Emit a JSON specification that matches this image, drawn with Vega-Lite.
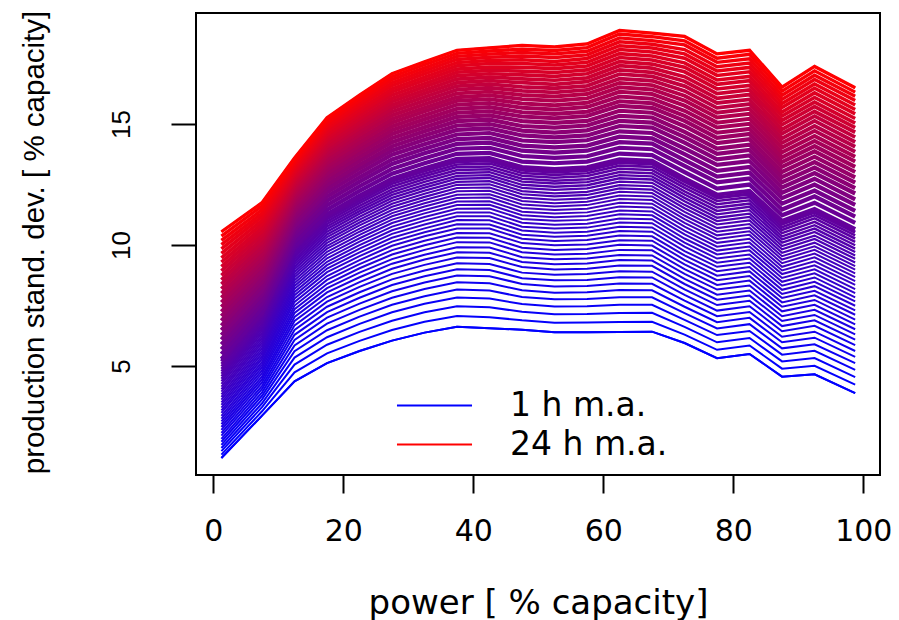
{
"$schema":"https://vega.github.io/schema/vega-lite/v6.json",
"width":684,"height":462,
"autosize":{"type":"none"},
"padding":{"left":196,"top":13,"right":19,"bottom":145},
"background":"white",
"config":{"view":{"stroke":"black","strokeWidth":2},"axis":{"grid":false}},
"data":{"values":[
{"w":1,"x":1.25,"y":1.2},{"w":1.25,"x":1.25,"y":1.34},{"w":1.5,"x":1.25,"y":1.48},{"w":1.75,"x":1.25,"y":1.61},{"w":2,"x":1.25,"y":1.74},{"w":2.25,"x":1.25,"y":1.87},{"w":2.5,"x":1.25,"y":1.99},{"w":2.75,"x":1.25,"y":2.12},{"w":3,"x":1.25,"y":2.24},{"w":3.25,"x":1.25,"y":2.36},{"w":3.5,"x":1.25,"y":2.48},{"w":3.75,"x":1.25,"y":2.6},{"w":4,"x":1.25,"y":2.71},{"w":4.25,"x":1.25,"y":2.83},{"w":4.5,"x":1.25,"y":2.94},{"w":4.75,"x":1.25,"y":3.06},{"w":5,"x":1.25,"y":3.17},{"w":5.25,"x":1.25,"y":3.28},{"w":5.5,"x":1.25,"y":3.39},{"w":5.75,"x":1.25,"y":3.5},{"w":6,"x":1.25,"y":3.61},{"w":6.25,"x":1.25,"y":3.72},{"w":6.5,"x":1.25,"y":3.83},{"w":6.75,"x":1.25,"y":3.94},{"w":7,"x":1.25,"y":4.04},{"w":7.25,"x":1.25,"y":4.15},{"w":7.5,"x":1.25,"y":4.26},{"w":7.75,"x":1.25,"y":4.37},{"w":8,"x":1.25,"y":4.47},{"w":8.25,"x":1.25,"y":4.58},{"w":8.5,"x":1.25,"y":4.68},{"w":8.75,"x":1.25,"y":4.78},{"w":9,"x":1.25,"y":4.88},{"w":9.25,"x":1.25,"y":4.99},{"w":9.5,"x":1.25,"y":5.09},{"w":9.75,"x":1.25,"y":5.19},{"w":10,"x":1.25,"y":5.29},{"w":10.5,"x":1.25,"y":5.49},{"w":11,"x":1.25,"y":5.69},{"w":11.5,"x":1.25,"y":5.89},{"w":12,"x":1.25,"y":6.09},{"w":12.5,"x":1.25,"y":6.28},{"w":13,"x":1.25,"y":6.48},{"w":13.5,"x":1.25,"y":6.67},{"w":14,"x":1.25,"y":6.87},{"w":14.5,"x":1.25,"y":7.06},{"w":15,"x":1.25,"y":7.25},{"w":15.5,"x":1.25,"y":7.44},{"w":16,"x":1.25,"y":7.63},{"w":16.5,"x":1.25,"y":7.82},{"w":17,"x":1.25,"y":8.0},{"w":17.5,"x":1.25,"y":8.19},{"w":18,"x":1.25,"y":8.38},{"w":18.5,"x":1.25,"y":8.56},{"w":19,"x":1.25,"y":8.75},{"w":19.5,"x":1.25,"y":8.93},{"w":20,"x":1.25,"y":9.11},{"w":20.5,"x":1.25,"y":9.29},{"w":21,"x":1.25,"y":9.47},{"w":21.5,"x":1.25,"y":9.66},{"w":22,"x":1.25,"y":9.84},{"w":22.5,"x":1.25,"y":10.02},{"w":23,"x":1.25,"y":10.19},{"w":23.5,"x":1.25,"y":10.37},{"w":24,"x":1.25,"y":10.55},
{"w":1,"x":7.5,"y":2.95},{"w":1.25,"x":7.5,"y":3.13},{"w":1.5,"x":7.5,"y":3.3},{"w":1.75,"x":7.5,"y":3.46},{"w":2,"x":7.5,"y":3.62},{"w":2.25,"x":7.5,"y":3.77},{"w":2.5,"x":7.5,"y":3.91},{"w":2.75,"x":7.5,"y":4.05},{"w":3,"x":7.5,"y":4.18},{"w":3.25,"x":7.5,"y":4.32},{"w":3.5,"x":7.5,"y":4.45},{"w":3.75,"x":7.5,"y":4.57},{"w":4,"x":7.5,"y":4.7},{"w":4.25,"x":7.5,"y":4.82},{"w":4.5,"x":7.5,"y":4.94},{"w":4.75,"x":7.5,"y":5.06},{"w":5,"x":7.5,"y":5.17},{"w":5.25,"x":7.5,"y":5.29},{"w":5.5,"x":7.5,"y":5.4},{"w":5.75,"x":7.5,"y":5.51},{"w":6,"x":7.5,"y":5.62},{"w":6.25,"x":7.5,"y":5.73},{"w":6.5,"x":7.5,"y":5.84},{"w":6.75,"x":7.5,"y":5.95},{"w":7,"x":7.5,"y":6.05},{"w":7.25,"x":7.5,"y":6.15},{"w":7.5,"x":7.5,"y":6.25},{"w":7.75,"x":7.5,"y":6.36},{"w":8,"x":7.5,"y":6.46},{"w":8.25,"x":7.5,"y":6.56},{"w":8.5,"x":7.5,"y":6.65},{"w":8.75,"x":7.5,"y":6.75},{"w":9,"x":7.5,"y":6.85},{"w":9.25,"x":7.5,"y":6.95},{"w":9.5,"x":7.5,"y":7.04},{"w":9.75,"x":7.5,"y":7.14},{"w":10,"x":7.5,"y":7.23},{"w":10.5,"x":7.5,"y":7.42},{"w":11,"x":7.5,"y":7.6},{"w":11.5,"x":7.5,"y":7.78},{"w":12,"x":7.5,"y":7.96},{"w":12.5,"x":7.5,"y":8.13},{"w":13,"x":7.5,"y":8.31},{"w":13.5,"x":7.5,"y":8.48},{"w":14,"x":7.5,"y":8.65},{"w":14.5,"x":7.5,"y":8.82},{"w":15,"x":7.5,"y":8.98},{"w":15.5,"x":7.5,"y":9.15},{"w":16,"x":7.5,"y":9.31},{"w":16.5,"x":7.5,"y":9.47},{"w":17,"x":7.5,"y":9.63},{"w":17.5,"x":7.5,"y":9.79},{"w":18,"x":7.5,"y":9.95},{"w":18.5,"x":7.5,"y":10.11},{"w":19,"x":7.5,"y":10.26},{"w":19.5,"x":7.5,"y":10.42},{"w":20,"x":7.5,"y":10.57},{"w":20.5,"x":7.5,"y":10.72},{"w":21,"x":7.5,"y":10.87},{"w":21.5,"x":7.5,"y":11.02},{"w":22,"x":7.5,"y":11.17},{"w":22.5,"x":7.5,"y":11.31},{"w":23,"x":7.5,"y":11.46},{"w":23.5,"x":7.5,"y":11.61},{"w":24,"x":7.5,"y":11.75},
{"w":1,"x":12.5,"y":4.37},{"w":1.25,"x":12.5,"y":4.74},{"w":1.5,"x":12.5,"y":5.06},{"w":1.75,"x":12.5,"y":5.35},{"w":2,"x":12.5,"y":5.61},{"w":2.25,"x":12.5,"y":5.85},{"w":2.5,"x":12.5,"y":6.08},{"w":2.75,"x":12.5,"y":6.29},{"w":3,"x":12.5,"y":6.49},{"w":3.25,"x":12.5,"y":6.68},{"w":3.5,"x":12.5,"y":6.86},{"w":3.75,"x":12.5,"y":7.03},{"w":4,"x":12.5,"y":7.19},{"w":4.25,"x":12.5,"y":7.35},{"w":4.5,"x":12.5,"y":7.5},{"w":4.75,"x":12.5,"y":7.65},{"w":5,"x":12.5,"y":7.79},{"w":5.25,"x":12.5,"y":7.93},{"w":5.5,"x":12.5,"y":8.06},{"w":5.75,"x":12.5,"y":8.19},{"w":6,"x":12.5,"y":8.31},{"w":6.25,"x":12.5,"y":8.43},{"w":6.5,"x":12.5,"y":8.55},{"w":6.75,"x":12.5,"y":8.67},{"w":7,"x":12.5,"y":8.78},{"w":7.25,"x":12.5,"y":8.89},{"w":7.5,"x":12.5,"y":9.0},{"w":7.75,"x":12.5,"y":9.11},{"w":8,"x":12.5,"y":9.21},{"w":8.25,"x":12.5,"y":9.31},{"w":8.5,"x":12.5,"y":9.41},{"w":8.75,"x":12.5,"y":9.51},{"w":9,"x":12.5,"y":9.6},{"w":9.25,"x":12.5,"y":9.7},{"w":9.5,"x":12.5,"y":9.79},{"w":9.75,"x":12.5,"y":9.88},{"w":10,"x":12.5,"y":9.97},{"w":10.5,"x":12.5,"y":10.14},{"w":11,"x":12.5,"y":10.31},{"w":11.5,"x":12.5,"y":10.48},{"w":12,"x":12.5,"y":10.64},{"w":12.5,"x":12.5,"y":10.79},{"w":13,"x":12.5,"y":10.94},{"w":13.5,"x":12.5,"y":11.09},{"w":14,"x":12.5,"y":11.24},{"w":14.5,"x":12.5,"y":11.38},{"w":15,"x":12.5,"y":11.51},{"w":15.5,"x":12.5,"y":11.65},{"w":16,"x":12.5,"y":11.78},{"w":16.5,"x":12.5,"y":11.91},{"w":17,"x":12.5,"y":12.04},{"w":17.5,"x":12.5,"y":12.16},{"w":18,"x":12.5,"y":12.28},{"w":18.5,"x":12.5,"y":12.4},{"w":19,"x":12.5,"y":12.52},{"w":19.5,"x":12.5,"y":12.64},{"w":20,"x":12.5,"y":12.75},{"w":20.5,"x":12.5,"y":12.86},{"w":21,"x":12.5,"y":12.97},{"w":21.5,"x":12.5,"y":13.08},{"w":22,"x":12.5,"y":13.19},{"w":22.5,"x":12.5,"y":13.29},{"w":23,"x":12.5,"y":13.4},{"w":23.5,"x":12.5,"y":13.5},{"w":24,"x":12.5,"y":13.6},
{"w":1,"x":17.5,"y":5.12},{"w":1.25,"x":17.5,"y":5.52},{"w":1.5,"x":17.5,"y":5.88},{"w":1.75,"x":17.5,"y":6.19},{"w":2,"x":17.5,"y":6.48},{"w":2.25,"x":17.5,"y":6.75},{"w":2.5,"x":17.5,"y":7.0},{"w":2.75,"x":17.5,"y":7.23},{"w":3,"x":17.5,"y":7.45},{"w":3.25,"x":17.5,"y":7.66},{"w":3.5,"x":17.5,"y":7.85},{"w":3.75,"x":17.5,"y":8.04},{"w":4,"x":17.5,"y":8.22},{"w":4.25,"x":17.5,"y":8.39},{"w":4.5,"x":17.5,"y":8.56},{"w":4.75,"x":17.5,"y":8.72},{"w":5,"x":17.5,"y":8.88},{"w":5.25,"x":17.5,"y":9.03},{"w":5.5,"x":17.5,"y":9.17},{"w":5.75,"x":17.5,"y":9.31},{"w":6,"x":17.5,"y":9.45},{"w":6.25,"x":17.5,"y":9.59},{"w":6.5,"x":17.5,"y":9.72},{"w":6.75,"x":17.5,"y":9.85},{"w":7,"x":17.5,"y":9.97},{"w":7.25,"x":17.5,"y":10.09},{"w":7.5,"x":17.5,"y":10.21},{"w":7.75,"x":17.5,"y":10.33},{"w":8,"x":17.5,"y":10.44},{"w":8.25,"x":17.5,"y":10.55},{"w":8.5,"x":17.5,"y":10.66},{"w":8.75,"x":17.5,"y":10.77},{"w":9,"x":17.5,"y":10.87},{"w":9.25,"x":17.5,"y":10.97},{"w":9.5,"x":17.5,"y":11.07},{"w":9.75,"x":17.5,"y":11.17},{"w":10,"x":17.5,"y":11.27},{"w":10.5,"x":17.5,"y":11.46},{"w":11,"x":17.5,"y":11.65},{"w":11.5,"x":17.5,"y":11.83},{"w":12,"x":17.5,"y":12.01},{"w":12.5,"x":17.5,"y":12.18},{"w":13,"x":17.5,"y":12.34},{"w":13.5,"x":17.5,"y":12.5},{"w":14,"x":17.5,"y":12.66},{"w":14.5,"x":17.5,"y":12.82},{"w":15,"x":17.5,"y":12.97},{"w":15.5,"x":17.5,"y":13.12},{"w":16,"x":17.5,"y":13.26},{"w":16.5,"x":17.5,"y":13.4},{"w":17,"x":17.5,"y":13.54},{"w":17.5,"x":17.5,"y":13.68},{"w":18,"x":17.5,"y":13.81},{"w":18.5,"x":17.5,"y":13.94},{"w":19,"x":17.5,"y":14.07},{"w":19.5,"x":17.5,"y":14.2},{"w":20,"x":17.5,"y":14.33},{"w":20.5,"x":17.5,"y":14.45},{"w":21,"x":17.5,"y":14.57},{"w":21.5,"x":17.5,"y":14.69},{"w":22,"x":17.5,"y":14.81},{"w":22.5,"x":17.5,"y":14.92},{"w":23,"x":17.5,"y":15.04},{"w":23.5,"x":17.5,"y":15.15},{"w":24,"x":17.5,"y":15.26},
{"w":1,"x":22.5,"y":5.62},{"w":1.25,"x":22.5,"y":6.04},{"w":1.5,"x":22.5,"y":6.41},{"w":1.75,"x":22.5,"y":6.74},{"w":2,"x":22.5,"y":7.04},{"w":2.25,"x":22.5,"y":7.32},{"w":2.5,"x":22.5,"y":7.58},{"w":2.75,"x":22.5,"y":7.82},{"w":3,"x":22.5,"y":8.05},{"w":3.25,"x":22.5,"y":8.27},{"w":3.5,"x":22.5,"y":8.47},{"w":3.75,"x":22.5,"y":8.67},{"w":4,"x":22.5,"y":8.86},{"w":4.25,"x":22.5,"y":9.04},{"w":4.5,"x":22.5,"y":9.21},{"w":4.75,"x":22.5,"y":9.38},{"w":5,"x":22.5,"y":9.54},{"w":5.25,"x":22.5,"y":9.7},{"w":5.5,"x":22.5,"y":9.85},{"w":5.75,"x":22.5,"y":10.0},{"w":6,"x":22.5,"y":10.14},{"w":6.25,"x":22.5,"y":10.28},{"w":6.5,"x":22.5,"y":10.42},{"w":6.75,"x":22.5,"y":10.55},{"w":7,"x":22.5,"y":10.68},{"w":7.25,"x":22.5,"y":10.81},{"w":7.5,"x":22.5,"y":10.93},{"w":7.75,"x":22.5,"y":11.05},{"w":8,"x":22.5,"y":11.17},{"w":8.25,"x":22.5,"y":11.29},{"w":8.5,"x":22.5,"y":11.4},{"w":8.75,"x":22.5,"y":11.51},{"w":9,"x":22.5,"y":11.62},{"w":9.25,"x":22.5,"y":11.73},{"w":9.5,"x":22.5,"y":11.83},{"w":9.75,"x":22.5,"y":11.94},{"w":10,"x":22.5,"y":12.04},{"w":10.5,"x":22.5,"y":12.24},{"w":11,"x":22.5,"y":12.43},{"w":11.5,"x":22.5,"y":12.62},{"w":12,"x":22.5,"y":12.8},{"w":12.5,"x":22.5,"y":12.98},{"w":13,"x":22.5,"y":13.16},{"w":13.5,"x":22.5,"y":13.32},{"w":14,"x":22.5,"y":13.49},{"w":14.5,"x":22.5,"y":13.65},{"w":15,"x":22.5,"y":13.81},{"w":15.5,"x":22.5,"y":13.96},{"w":16,"x":22.5,"y":14.11},{"w":16.5,"x":22.5,"y":14.26},{"w":17,"x":22.5,"y":14.41},{"w":17.5,"x":22.5,"y":14.55},{"w":18,"x":22.5,"y":14.69},{"w":18.5,"x":22.5,"y":14.83},{"w":19,"x":22.5,"y":14.96},{"w":19.5,"x":22.5,"y":15.09},{"w":20,"x":22.5,"y":15.22},{"w":20.5,"x":22.5,"y":15.35},{"w":21,"x":22.5,"y":15.48},{"w":21.5,"x":22.5,"y":15.6},{"w":22,"x":22.5,"y":15.73},{"w":22.5,"x":22.5,"y":15.85},{"w":23,"x":22.5,"y":15.97},{"w":23.5,"x":22.5,"y":16.08},{"w":24,"x":22.5,"y":16.2},
{"w":1,"x":27.5,"y":6.05},{"w":1.25,"x":27.5,"y":6.49},{"w":1.5,"x":27.5,"y":6.87},{"w":1.75,"x":27.5,"y":7.22},{"w":2,"x":27.5,"y":7.53},{"w":2.25,"x":27.5,"y":7.82},{"w":2.5,"x":27.5,"y":8.09},{"w":2.75,"x":27.5,"y":8.35},{"w":3,"x":27.5,"y":8.58},{"w":3.25,"x":27.5,"y":8.81},{"w":3.5,"x":27.5,"y":9.02},{"w":3.75,"x":27.5,"y":9.23},{"w":4,"x":27.5,"y":9.42},{"w":4.25,"x":27.5,"y":9.61},{"w":4.5,"x":27.5,"y":9.79},{"w":4.75,"x":27.5,"y":9.97},{"w":5,"x":27.5,"y":10.14},{"w":5.25,"x":27.5,"y":10.3},{"w":5.5,"x":27.5,"y":10.46},{"w":5.75,"x":27.5,"y":10.61},{"w":6,"x":27.5,"y":10.76},{"w":6.25,"x":27.5,"y":10.91},{"w":6.5,"x":27.5,"y":11.05},{"w":6.75,"x":27.5,"y":11.19},{"w":7,"x":27.5,"y":11.32},{"w":7.25,"x":27.5,"y":11.45},{"w":7.5,"x":27.5,"y":11.58},{"w":7.75,"x":27.5,"y":11.71},{"w":8,"x":27.5,"y":11.83},{"w":8.25,"x":27.5,"y":11.95},{"w":8.5,"x":27.5,"y":12.07},{"w":8.75,"x":27.5,"y":12.19},{"w":9,"x":27.5,"y":12.3},{"w":9.25,"x":27.5,"y":12.42},{"w":9.5,"x":27.5,"y":12.53},{"w":9.75,"x":27.5,"y":12.64},{"w":10,"x":27.5,"y":12.74},{"w":10.5,"x":27.5,"y":12.95},{"w":11,"x":27.5,"y":13.15},{"w":11.5,"x":27.5,"y":13.35},{"w":12,"x":27.5,"y":13.54},{"w":12.5,"x":27.5,"y":13.73},{"w":13,"x":27.5,"y":13.91},{"w":13.5,"x":27.5,"y":14.08},{"w":14,"x":27.5,"y":14.25},{"w":14.5,"x":27.5,"y":14.42},{"w":15,"x":27.5,"y":14.59},{"w":15.5,"x":27.5,"y":14.75},{"w":16,"x":27.5,"y":14.91},{"w":16.5,"x":27.5,"y":15.06},{"w":17,"x":27.5,"y":15.21},{"w":17.5,"x":27.5,"y":15.36},{"w":18,"x":27.5,"y":15.51},{"w":18.5,"x":27.5,"y":15.65},{"w":19,"x":27.5,"y":15.79},{"w":19.5,"x":27.5,"y":15.93},{"w":20,"x":27.5,"y":16.06},{"w":20.5,"x":27.5,"y":16.2},{"w":21,"x":27.5,"y":16.33},{"w":21.5,"x":27.5,"y":16.46},{"w":22,"x":27.5,"y":16.59},{"w":22.5,"x":27.5,"y":16.71},{"w":23,"x":27.5,"y":16.84},{"w":23.5,"x":27.5,"y":16.96},{"w":24,"x":27.5,"y":17.08},
{"w":1,"x":32.5,"y":6.38},{"w":1.25,"x":32.5,"y":6.83},{"w":1.5,"x":32.5,"y":7.22},{"w":1.75,"x":32.5,"y":7.57},{"w":2,"x":32.5,"y":7.88},{"w":2.25,"x":32.5,"y":8.18},{"w":2.5,"x":32.5,"y":8.45},{"w":2.75,"x":32.5,"y":8.71},{"w":3,"x":32.5,"y":8.95},{"w":3.25,"x":32.5,"y":9.18},{"w":3.5,"x":32.5,"y":9.4},{"w":3.75,"x":32.5,"y":9.6},{"w":4,"x":32.5,"y":9.8},{"w":4.25,"x":32.5,"y":9.99},{"w":4.5,"x":32.5,"y":10.18},{"w":4.75,"x":32.5,"y":10.36},{"w":5,"x":32.5,"y":10.53},{"w":5.25,"x":32.5,"y":10.69},{"w":5.5,"x":32.5,"y":10.85},{"w":5.75,"x":32.5,"y":11.01},{"w":6,"x":32.5,"y":11.16},{"w":6.25,"x":32.5,"y":11.31},{"w":6.5,"x":32.5,"y":11.45},{"w":6.75,"x":32.5,"y":11.59},{"w":7,"x":32.5,"y":11.73},{"w":7.25,"x":32.5,"y":11.86},{"w":7.5,"x":32.5,"y":11.99},{"w":7.75,"x":32.5,"y":12.12},{"w":8,"x":32.5,"y":12.25},{"w":8.25,"x":32.5,"y":12.37},{"w":8.5,"x":32.5,"y":12.49},{"w":8.75,"x":32.5,"y":12.61},{"w":9,"x":32.5,"y":12.73},{"w":9.25,"x":32.5,"y":12.84},{"w":9.5,"x":32.5,"y":12.95},{"w":9.75,"x":32.5,"y":13.06},{"w":10,"x":32.5,"y":13.17},{"w":10.5,"x":32.5,"y":13.38},{"w":11,"x":32.5,"y":13.59},{"w":11.5,"x":32.5,"y":13.79},{"w":12,"x":32.5,"y":13.98},{"w":12.5,"x":32.5,"y":14.17},{"w":13,"x":32.5,"y":14.35},{"w":13.5,"x":32.5,"y":14.53},{"w":14,"x":32.5,"y":14.7},{"w":14.5,"x":32.5,"y":14.87},{"w":15,"x":32.5,"y":15.04},{"w":15.5,"x":32.5,"y":15.2},{"w":16,"x":32.5,"y":15.36},{"w":16.5,"x":32.5,"y":15.52},{"w":17,"x":32.5,"y":15.67},{"w":17.5,"x":32.5,"y":15.82},{"w":18,"x":32.5,"y":15.97},{"w":18.5,"x":32.5,"y":16.12},{"w":19,"x":32.5,"y":16.26},{"w":19.5,"x":32.5,"y":16.4},{"w":20,"x":32.5,"y":16.54},{"w":20.5,"x":32.5,"y":16.67},{"w":21,"x":32.5,"y":16.81},{"w":21.5,"x":32.5,"y":16.94},{"w":22,"x":32.5,"y":17.07},{"w":22.5,"x":32.5,"y":17.2},{"w":23,"x":32.5,"y":17.32},{"w":23.5,"x":32.5,"y":17.45},{"w":24,"x":32.5,"y":17.57},
{"w":1,"x":37.5,"y":6.62},{"w":1.25,"x":37.5,"y":7.07},{"w":1.5,"x":37.5,"y":7.47},{"w":1.75,"x":37.5,"y":7.83},{"w":2,"x":37.5,"y":8.16},{"w":2.25,"x":37.5,"y":8.46},{"w":2.5,"x":37.5,"y":8.74},{"w":2.75,"x":37.5,"y":9.0},{"w":3,"x":37.5,"y":9.25},{"w":3.25,"x":37.5,"y":9.48},{"w":3.5,"x":37.5,"y":9.7},{"w":3.75,"x":37.5,"y":9.91},{"w":4,"x":37.5,"y":10.12},{"w":4.25,"x":37.5,"y":10.31},{"w":4.5,"x":37.5,"y":10.5},{"w":4.75,"x":37.5,"y":10.68},{"w":5,"x":37.5,"y":10.86},{"w":5.25,"x":37.5,"y":11.03},{"w":5.5,"x":37.5,"y":11.19},{"w":5.75,"x":37.5,"y":11.35},{"w":6,"x":37.5,"y":11.5},{"w":6.25,"x":37.5,"y":11.65},{"w":6.5,"x":37.5,"y":11.8},{"w":6.75,"x":37.5,"y":11.94},{"w":7,"x":37.5,"y":12.08},{"w":7.25,"x":37.5,"y":12.22},{"w":7.5,"x":37.5,"y":12.36},{"w":7.75,"x":37.5,"y":12.49},{"w":8,"x":37.5,"y":12.61},{"w":8.25,"x":37.5,"y":12.74},{"w":8.5,"x":37.5,"y":12.86},{"w":8.75,"x":37.5,"y":12.98},{"w":9,"x":37.5,"y":13.1},{"w":9.25,"x":37.5,"y":13.22},{"w":9.5,"x":37.5,"y":13.33},{"w":9.75,"x":37.5,"y":13.45},{"w":10,"x":37.5,"y":13.56},{"w":10.5,"x":37.5,"y":13.77},{"w":11,"x":37.5,"y":13.98},{"w":11.5,"x":37.5,"y":14.18},{"w":12,"x":37.5,"y":14.38},{"w":12.5,"x":37.5,"y":14.57},{"w":13,"x":37.5,"y":14.76},{"w":13.5,"x":37.5,"y":14.94},{"w":14,"x":37.5,"y":15.12},{"w":14.5,"x":37.5,"y":15.3},{"w":15,"x":37.5,"y":15.47},{"w":15.5,"x":37.5,"y":15.63},{"w":16,"x":37.5,"y":15.8},{"w":16.5,"x":37.5,"y":15.96},{"w":17,"x":37.5,"y":16.11},{"w":17.5,"x":37.5,"y":16.27},{"w":18,"x":37.5,"y":16.42},{"w":18.5,"x":37.5,"y":16.57},{"w":19,"x":37.5,"y":16.71},{"w":19.5,"x":37.5,"y":16.86},{"w":20,"x":37.5,"y":17.0},{"w":20.5,"x":37.5,"y":17.14},{"w":21,"x":37.5,"y":17.27},{"w":21.5,"x":37.5,"y":17.41},{"w":22,"x":37.5,"y":17.54},{"w":22.5,"x":37.5,"y":17.67},{"w":23,"x":37.5,"y":17.8},{"w":23.5,"x":37.5,"y":17.92},{"w":24,"x":37.5,"y":18.05},
{"w":1,"x":42.5,"y":6.56},{"w":1.25,"x":42.5,"y":7.02},{"w":1.5,"x":42.5,"y":7.43},{"w":1.75,"x":42.5,"y":7.79},{"w":2,"x":42.5,"y":8.12},{"w":2.25,"x":42.5,"y":8.42},{"w":2.5,"x":42.5,"y":8.71},{"w":2.75,"x":42.5,"y":8.97},{"w":3,"x":42.5,"y":9.22},{"w":3.25,"x":42.5,"y":9.46},{"w":3.5,"x":42.5,"y":9.68},{"w":3.75,"x":42.5,"y":9.9},{"w":4,"x":42.5,"y":10.11},{"w":4.25,"x":42.5,"y":10.3},{"w":4.5,"x":42.5,"y":10.49},{"w":4.75,"x":42.5,"y":10.68},{"w":5,"x":42.5,"y":10.85},{"w":5.25,"x":42.5,"y":11.02},{"w":5.5,"x":42.5,"y":11.19},{"w":5.75,"x":42.5,"y":11.35},{"w":6,"x":42.5,"y":11.51},{"w":6.25,"x":42.5,"y":11.66},{"w":6.5,"x":42.5,"y":11.81},{"w":6.75,"x":42.5,"y":11.96},{"w":7,"x":42.5,"y":12.1},{"w":7.25,"x":42.5,"y":12.24},{"w":7.5,"x":42.5,"y":12.38},{"w":7.75,"x":42.5,"y":12.51},{"w":8,"x":42.5,"y":12.64},{"w":8.25,"x":42.5,"y":12.77},{"w":8.5,"x":42.5,"y":12.89},{"w":8.75,"x":42.5,"y":13.01},{"w":9,"x":42.5,"y":13.13},{"w":9.25,"x":42.5,"y":13.25},{"w":9.5,"x":42.5,"y":13.37},{"w":9.75,"x":42.5,"y":13.48},{"w":10,"x":42.5,"y":13.59},{"w":10.5,"x":42.5,"y":13.81},{"w":11,"x":42.5,"y":14.02},{"w":11.5,"x":42.5,"y":14.23},{"w":12,"x":42.5,"y":14.43},{"w":12.5,"x":42.5,"y":14.63},{"w":13,"x":42.5,"y":14.82},{"w":13.5,"x":42.5,"y":15.0},{"w":14,"x":42.5,"y":15.18},{"w":14.5,"x":42.5,"y":15.36},{"w":15,"x":42.5,"y":15.53},{"w":15.5,"x":42.5,"y":15.7},{"w":16,"x":42.5,"y":15.87},{"w":16.5,"x":42.5,"y":16.03},{"w":17,"x":42.5,"y":16.19},{"w":17.5,"x":42.5,"y":16.34},{"w":18,"x":42.5,"y":16.5},{"w":18.5,"x":42.5,"y":16.65},{"w":19,"x":42.5,"y":16.79},{"w":19.5,"x":42.5,"y":16.94},{"w":20,"x":42.5,"y":17.08},{"w":20.5,"x":42.5,"y":17.22},{"w":21,"x":42.5,"y":17.36},{"w":21.5,"x":42.5,"y":17.5},{"w":22,"x":42.5,"y":17.63},{"w":22.5,"x":42.5,"y":17.76},{"w":23,"x":42.5,"y":17.89},{"w":23.5,"x":42.5,"y":18.02},{"w":24,"x":42.5,"y":18.15},
{"w":1,"x":47.5,"y":6.5},{"w":1.25,"x":47.5,"y":6.89},{"w":1.5,"x":47.5,"y":7.24},{"w":1.75,"x":47.5,"y":7.56},{"w":2,"x":47.5,"y":7.85},{"w":2.25,"x":47.5,"y":8.13},{"w":2.5,"x":47.5,"y":8.39},{"w":2.75,"x":47.5,"y":8.63},{"w":3,"x":47.5,"y":8.86},{"w":3.25,"x":47.5,"y":9.09},{"w":3.5,"x":47.5,"y":9.3},{"w":3.75,"x":47.5,"y":9.5},{"w":4,"x":47.5,"y":9.7},{"w":4.25,"x":47.5,"y":9.89},{"w":4.5,"x":47.5,"y":10.08},{"w":4.75,"x":47.5,"y":10.26},{"w":5,"x":47.5,"y":10.43},{"w":5.25,"x":47.5,"y":10.6},{"w":5.5,"x":47.5,"y":10.76},{"w":5.75,"x":47.5,"y":10.92},{"w":6,"x":47.5,"y":11.08},{"w":6.25,"x":47.5,"y":11.23},{"w":6.5,"x":47.5,"y":11.38},{"w":6.75,"x":47.5,"y":11.53},{"w":7,"x":47.5,"y":11.68},{"w":7.25,"x":47.5,"y":11.82},{"w":7.5,"x":47.5,"y":11.96},{"w":7.75,"x":47.5,"y":12.1},{"w":8,"x":47.5,"y":12.23},{"w":8.25,"x":47.5,"y":12.36},{"w":8.5,"x":47.5,"y":12.49},{"w":8.75,"x":47.5,"y":12.62},{"w":9,"x":47.5,"y":12.74},{"w":9.25,"x":47.5,"y":12.86},{"w":9.5,"x":47.5,"y":12.98},{"w":9.75,"x":47.5,"y":13.1},{"w":10,"x":47.5,"y":13.22},{"w":10.5,"x":47.5,"y":13.45},{"w":11,"x":47.5,"y":13.68},{"w":11.5,"x":47.5,"y":13.9},{"w":12,"x":47.5,"y":14.11},{"w":12.5,"x":47.5,"y":14.32},{"w":13,"x":47.5,"y":14.53},{"w":13.5,"x":47.5,"y":14.73},{"w":14,"x":47.5,"y":14.92},{"w":14.5,"x":47.5,"y":15.12},{"w":15,"x":47.5,"y":15.31},{"w":15.5,"x":47.5,"y":15.49},{"w":16,"x":47.5,"y":15.67},{"w":16.5,"x":47.5,"y":15.85},{"w":17,"x":47.5,"y":16.03},{"w":17.5,"x":47.5,"y":16.2},{"w":18,"x":47.5,"y":16.37},{"w":18.5,"x":47.5,"y":16.54},{"w":19,"x":47.5,"y":16.71},{"w":19.5,"x":47.5,"y":16.87},{"w":20,"x":47.5,"y":17.03},{"w":20.5,"x":47.5,"y":17.19},{"w":21,"x":47.5,"y":17.35},{"w":21.5,"x":47.5,"y":17.5},{"w":22,"x":47.5,"y":17.66},{"w":22.5,"x":47.5,"y":17.81},{"w":23,"x":47.5,"y":17.96},{"w":23.5,"x":47.5,"y":18.1},{"w":24,"x":47.5,"y":18.25},
{"w":1,"x":52.5,"y":6.4},{"w":1.25,"x":52.5,"y":6.79},{"w":1.5,"x":52.5,"y":7.14},{"w":1.75,"x":52.5,"y":7.46},{"w":2,"x":52.5,"y":7.76},{"w":2.25,"x":52.5,"y":8.03},{"w":2.5,"x":52.5,"y":8.29},{"w":2.75,"x":52.5,"y":8.54},{"w":3,"x":52.5,"y":8.77},{"w":3.25,"x":52.5,"y":8.99},{"w":3.5,"x":52.5,"y":9.21},{"w":3.75,"x":52.5,"y":9.41},{"w":4,"x":52.5,"y":9.61},{"w":4.25,"x":52.5,"y":9.8},{"w":4.5,"x":52.5,"y":9.99},{"w":4.75,"x":52.5,"y":10.17},{"w":5,"x":52.5,"y":10.34},{"w":5.25,"x":52.5,"y":10.51},{"w":5.5,"x":52.5,"y":10.68},{"w":5.75,"x":52.5,"y":10.84},{"w":6,"x":52.5,"y":11.0},{"w":6.25,"x":52.5,"y":11.15},{"w":6.5,"x":52.5,"y":11.3},{"w":6.75,"x":52.5,"y":11.45},{"w":7,"x":52.5,"y":11.59},{"w":7.25,"x":52.5,"y":11.73},{"w":7.5,"x":52.5,"y":11.87},{"w":7.75,"x":52.5,"y":12.01},{"w":8,"x":52.5,"y":12.14},{"w":8.25,"x":52.5,"y":12.28},{"w":8.5,"x":52.5,"y":12.41},{"w":8.75,"x":52.5,"y":12.54},{"w":9,"x":52.5,"y":12.66},{"w":9.25,"x":52.5,"y":12.78},{"w":9.5,"x":52.5,"y":12.9},{"w":9.75,"x":52.5,"y":13.02},{"w":10,"x":52.5,"y":13.14},{"w":10.5,"x":52.5,"y":13.38},{"w":11,"x":52.5,"y":13.6},{"w":11.5,"x":52.5,"y":13.82},{"w":12,"x":52.5,"y":14.04},{"w":12.5,"x":52.5,"y":14.25},{"w":13,"x":52.5,"y":14.45},{"w":13.5,"x":52.5,"y":14.65},{"w":14,"x":52.5,"y":14.85},{"w":14.5,"x":52.5,"y":15.05},{"w":15,"x":52.5,"y":15.24},{"w":15.5,"x":52.5,"y":15.42},{"w":16,"x":52.5,"y":15.6},{"w":16.5,"x":52.5,"y":15.78},{"w":17,"x":52.5,"y":15.96},{"w":17.5,"x":52.5,"y":16.14},{"w":18,"x":52.5,"y":16.31},{"w":18.5,"x":52.5,"y":16.48},{"w":19,"x":52.5,"y":16.64},{"w":19.5,"x":52.5,"y":16.81},{"w":20,"x":52.5,"y":16.97},{"w":20.5,"x":52.5,"y":17.13},{"w":21,"x":52.5,"y":17.29},{"w":21.5,"x":52.5,"y":17.44},{"w":22,"x":52.5,"y":17.59},{"w":22.5,"x":52.5,"y":17.75},{"w":23,"x":52.5,"y":17.9},{"w":23.5,"x":52.5,"y":18.04},{"w":24,"x":52.5,"y":18.19},
{"w":1,"x":57.5,"y":6.4},{"w":1.25,"x":57.5,"y":6.8},{"w":1.5,"x":57.5,"y":7.15},{"w":1.75,"x":57.5,"y":7.47},{"w":2,"x":57.5,"y":7.77},{"w":2.25,"x":57.5,"y":8.05},{"w":2.5,"x":57.5,"y":8.31},{"w":2.75,"x":57.5,"y":8.56},{"w":3,"x":57.5,"y":8.8},{"w":3.25,"x":57.5,"y":9.02},{"w":3.5,"x":57.5,"y":9.24},{"w":3.75,"x":57.5,"y":9.44},{"w":4,"x":57.5,"y":9.64},{"w":4.25,"x":57.5,"y":9.84},{"w":4.5,"x":57.5,"y":10.02},{"w":4.75,"x":57.5,"y":10.21},{"w":5,"x":57.5,"y":10.38},{"w":5.25,"x":57.5,"y":10.55},{"w":5.5,"x":57.5,"y":10.72},{"w":5.75,"x":57.5,"y":10.88},{"w":6,"x":57.5,"y":11.04},{"w":6.25,"x":57.5,"y":11.2},{"w":6.5,"x":57.5,"y":11.35},{"w":6.75,"x":57.5,"y":11.5},{"w":7,"x":57.5,"y":11.65},{"w":7.25,"x":57.5,"y":11.79},{"w":7.5,"x":57.5,"y":11.93},{"w":7.75,"x":57.5,"y":12.07},{"w":8,"x":57.5,"y":12.2},{"w":8.25,"x":57.5,"y":12.34},{"w":8.5,"x":57.5,"y":12.47},{"w":8.75,"x":57.5,"y":12.6},{"w":9,"x":57.5,"y":12.72},{"w":9.25,"x":57.5,"y":12.85},{"w":9.5,"x":57.5,"y":12.97},{"w":9.75,"x":57.5,"y":13.09},{"w":10,"x":57.5,"y":13.21},{"w":10.5,"x":57.5,"y":13.45},{"w":11,"x":57.5,"y":13.67},{"w":11.5,"x":57.5,"y":13.9},{"w":12,"x":57.5,"y":14.11},{"w":12.5,"x":57.5,"y":14.33},{"w":13,"x":57.5,"y":14.53},{"w":13.5,"x":57.5,"y":14.74},{"w":14,"x":57.5,"y":14.94},{"w":14.5,"x":57.5,"y":15.13},{"w":15,"x":57.5,"y":15.33},{"w":15.5,"x":57.5,"y":15.51},{"w":16,"x":57.5,"y":15.7},{"w":16.5,"x":57.5,"y":15.88},{"w":17,"x":57.5,"y":16.06},{"w":17.5,"x":57.5,"y":16.24},{"w":18,"x":57.5,"y":16.41},{"w":18.5,"x":57.5,"y":16.58},{"w":19,"x":57.5,"y":16.75},{"w":19.5,"x":57.5,"y":16.91},{"w":20,"x":57.5,"y":17.08},{"w":20.5,"x":57.5,"y":17.24},{"w":21,"x":57.5,"y":17.4},{"w":21.5,"x":57.5,"y":17.55},{"w":22,"x":57.5,"y":17.71},{"w":22.5,"x":57.5,"y":17.86},{"w":23,"x":57.5,"y":18.01},{"w":23.5,"x":57.5,"y":18.16},{"w":24,"x":57.5,"y":18.31},
{"w":1,"x":62.5,"y":6.41},{"w":1.25,"x":62.5,"y":6.82},{"w":1.5,"x":62.5,"y":7.19},{"w":1.75,"x":62.5,"y":7.53},{"w":2,"x":62.5,"y":7.84},{"w":2.25,"x":62.5,"y":8.14},{"w":2.5,"x":62.5,"y":8.41},{"w":2.75,"x":62.5,"y":8.67},{"w":3,"x":62.5,"y":8.92},{"w":3.25,"x":62.5,"y":9.15},{"w":3.5,"x":62.5,"y":9.38},{"w":3.75,"x":62.5,"y":9.59},{"w":4,"x":62.5,"y":9.8},{"w":4.25,"x":62.5,"y":10.01},{"w":4.5,"x":62.5,"y":10.2},{"w":4.75,"x":62.5,"y":10.39},{"w":5,"x":62.5,"y":10.58},{"w":5.25,"x":62.5,"y":10.76},{"w":5.5,"x":62.5,"y":10.93},{"w":5.75,"x":62.5,"y":11.1},{"w":6,"x":62.5,"y":11.27},{"w":6.25,"x":62.5,"y":11.43},{"w":6.5,"x":62.5,"y":11.59},{"w":6.75,"x":62.5,"y":11.75},{"w":7,"x":62.5,"y":11.9},{"w":7.25,"x":62.5,"y":12.05},{"w":7.5,"x":62.5,"y":12.2},{"w":7.75,"x":62.5,"y":12.34},{"w":8,"x":62.5,"y":12.48},{"w":8.25,"x":62.5,"y":12.62},{"w":8.5,"x":62.5,"y":12.76},{"w":8.75,"x":62.5,"y":12.89},{"w":9,"x":62.5,"y":13.02},{"w":9.25,"x":62.5,"y":13.15},{"w":9.5,"x":62.5,"y":13.28},{"w":9.75,"x":62.5,"y":13.41},{"w":10,"x":62.5,"y":13.54},{"w":10.5,"x":62.5,"y":13.78},{"w":11,"x":62.5,"y":14.02},{"w":11.5,"x":62.5,"y":14.25},{"w":12,"x":62.5,"y":14.48},{"w":12.5,"x":62.5,"y":14.7},{"w":13,"x":62.5,"y":14.92},{"w":13.5,"x":62.5,"y":15.13},{"w":14,"x":62.5,"y":15.34},{"w":14.5,"x":62.5,"y":15.55},{"w":15,"x":62.5,"y":15.75},{"w":15.5,"x":62.5,"y":15.94},{"w":16,"x":62.5,"y":16.14},{"w":16.5,"x":62.5,"y":16.33},{"w":17,"x":62.5,"y":16.52},{"w":17.5,"x":62.5,"y":16.7},{"w":18,"x":62.5,"y":16.88},{"w":18.5,"x":62.5,"y":17.06},{"w":19,"x":62.5,"y":17.24},{"w":19.5,"x":62.5,"y":17.41},{"w":20,"x":62.5,"y":17.58},{"w":20.5,"x":62.5,"y":17.75},{"w":21,"x":62.5,"y":17.91},{"w":21.5,"x":62.5,"y":18.08},{"w":22,"x":62.5,"y":18.24},{"w":22.5,"x":62.5,"y":18.4},{"w":23,"x":62.5,"y":18.56},{"w":23.5,"x":62.5,"y":18.72},{"w":24,"x":62.5,"y":18.87},
{"w":1,"x":67.5,"y":6.42},{"w":1.25,"x":67.5,"y":6.83},{"w":1.5,"x":67.5,"y":7.2},{"w":1.75,"x":67.5,"y":7.53},{"w":2,"x":67.5,"y":7.84},{"w":2.25,"x":67.5,"y":8.13},{"w":2.5,"x":67.5,"y":8.4},{"w":2.75,"x":67.5,"y":8.66},{"w":3,"x":67.5,"y":8.9},{"w":3.25,"x":67.5,"y":9.14},{"w":3.5,"x":67.5,"y":9.36},{"w":3.75,"x":67.5,"y":9.57},{"w":4,"x":67.5,"y":9.78},{"w":4.25,"x":67.5,"y":9.98},{"w":4.5,"x":67.5,"y":10.18},{"w":4.75,"x":67.5,"y":10.36},{"w":5,"x":67.5,"y":10.55},{"w":5.25,"x":67.5,"y":10.73},{"w":5.5,"x":67.5,"y":10.9},{"w":5.75,"x":67.5,"y":11.07},{"w":6,"x":67.5,"y":11.23},{"w":6.25,"x":67.5,"y":11.39},{"w":6.5,"x":67.5,"y":11.55},{"w":6.75,"x":67.5,"y":11.71},{"w":7,"x":67.5,"y":11.86},{"w":7.25,"x":67.5,"y":12.01},{"w":7.5,"x":67.5,"y":12.15},{"w":7.75,"x":67.5,"y":12.29},{"w":8,"x":67.5,"y":12.43},{"w":8.25,"x":67.5,"y":12.57},{"w":8.5,"x":67.5,"y":12.71},{"w":8.75,"x":67.5,"y":12.84},{"w":9,"x":67.5,"y":12.97},{"w":9.25,"x":67.5,"y":13.1},{"w":9.5,"x":67.5,"y":13.23},{"w":9.75,"x":67.5,"y":13.36},{"w":10,"x":67.5,"y":13.48},{"w":10.5,"x":67.5,"y":13.72},{"w":11,"x":67.5,"y":13.96},{"w":11.5,"x":67.5,"y":14.19},{"w":12,"x":67.5,"y":14.41},{"w":12.5,"x":67.5,"y":14.63},{"w":13,"x":67.5,"y":14.85},{"w":13.5,"x":67.5,"y":15.06},{"w":14,"x":67.5,"y":15.27},{"w":14.5,"x":67.5,"y":15.47},{"w":15,"x":67.5,"y":15.67},{"w":15.5,"x":67.5,"y":15.86},{"w":16,"x":67.5,"y":16.05},{"w":16.5,"x":67.5,"y":16.24},{"w":17,"x":67.5,"y":16.43},{"w":17.5,"x":67.5,"y":16.61},{"w":18,"x":67.5,"y":16.79},{"w":18.5,"x":67.5,"y":16.97},{"w":19,"x":67.5,"y":17.14},{"w":19.5,"x":67.5,"y":17.31},{"w":20,"x":67.5,"y":17.48},{"w":20.5,"x":67.5,"y":17.65},{"w":21,"x":67.5,"y":17.81},{"w":21.5,"x":67.5,"y":17.98},{"w":22,"x":67.5,"y":18.14},{"w":22.5,"x":67.5,"y":18.3},{"w":23,"x":67.5,"y":18.45},{"w":23.5,"x":67.5,"y":18.61},{"w":24,"x":67.5,"y":18.76},
{"w":1,"x":72.5,"y":5.95},{"w":1.25,"x":72.5,"y":6.3},{"w":1.5,"x":72.5,"y":6.62},{"w":1.75,"x":72.5,"y":6.91},{"w":2,"x":72.5,"y":7.19},{"w":2.25,"x":72.5,"y":7.45},{"w":2.5,"x":72.5,"y":7.7},{"w":2.75,"x":72.5,"y":7.94},{"w":3,"x":72.5,"y":8.17},{"w":3.25,"x":72.5,"y":8.39},{"w":3.5,"x":72.5,"y":8.6},{"w":3.75,"x":72.5,"y":8.81},{"w":4,"x":72.5,"y":9.0},{"w":4.25,"x":72.5,"y":9.2},{"w":4.5,"x":72.5,"y":9.39},{"w":4.75,"x":72.5,"y":9.57},{"w":5,"x":72.5,"y":9.75},{"w":5.25,"x":72.5,"y":9.93},{"w":5.5,"x":72.5,"y":10.1},{"w":5.75,"x":72.5,"y":10.27},{"w":6,"x":72.5,"y":10.44},{"w":6.25,"x":72.5,"y":10.6},{"w":6.5,"x":72.5,"y":10.76},{"w":6.75,"x":72.5,"y":10.92},{"w":7,"x":72.5,"y":11.07},{"w":7.25,"x":72.5,"y":11.22},{"w":7.5,"x":72.5,"y":11.37},{"w":7.75,"x":72.5,"y":11.52},{"w":8,"x":72.5,"y":11.66},{"w":8.25,"x":72.5,"y":11.81},{"w":8.5,"x":72.5,"y":11.95},{"w":8.75,"x":72.5,"y":12.09},{"w":9,"x":72.5,"y":12.22},{"w":9.25,"x":72.5,"y":12.36},{"w":9.5,"x":72.5,"y":12.49},{"w":9.75,"x":72.5,"y":12.63},{"w":10,"x":72.5,"y":12.76},{"w":10.5,"x":72.5,"y":13.01},{"w":11,"x":72.5,"y":13.27},{"w":11.5,"x":72.5,"y":13.51},{"w":12,"x":72.5,"y":13.76},{"w":12.5,"x":72.5,"y":13.99},{"w":13,"x":72.5,"y":14.23},{"w":13.5,"x":72.5,"y":14.46},{"w":14,"x":72.5,"y":14.68},{"w":14.5,"x":72.5,"y":14.91},{"w":15,"x":72.5,"y":15.13},{"w":15.5,"x":72.5,"y":15.34},{"w":16,"x":72.5,"y":15.55},{"w":16.5,"x":72.5,"y":15.76},{"w":17,"x":72.5,"y":15.97},{"w":17.5,"x":72.5,"y":16.17},{"w":18,"x":72.5,"y":16.37},{"w":18.5,"x":72.5,"y":16.57},{"w":19,"x":72.5,"y":16.77},{"w":19.5,"x":72.5,"y":16.96},{"w":20,"x":72.5,"y":17.16},{"w":20.5,"x":72.5,"y":17.35},{"w":21,"x":72.5,"y":17.53},{"w":21.5,"x":72.5,"y":17.72},{"w":22,"x":72.5,"y":17.9},{"w":22.5,"x":72.5,"y":18.08},{"w":23,"x":72.5,"y":18.27},{"w":23.5,"x":72.5,"y":18.44},{"w":24,"x":72.5,"y":18.62},
{"w":1,"x":77.5,"y":5.32},{"w":1.25,"x":77.5,"y":5.67},{"w":1.5,"x":77.5,"y":5.98},{"w":1.75,"x":77.5,"y":6.28},{"w":2,"x":77.5,"y":6.55},{"w":2.25,"x":77.5,"y":6.81},{"w":2.5,"x":77.5,"y":7.06},{"w":2.75,"x":77.5,"y":7.29},{"w":3,"x":77.5,"y":7.52},{"w":3.25,"x":77.5,"y":7.74},{"w":3.5,"x":77.5,"y":7.95},{"w":3.75,"x":77.5,"y":8.16},{"w":4,"x":77.5,"y":8.35},{"w":4.25,"x":77.5,"y":8.55},{"w":4.5,"x":77.5,"y":8.73},{"w":4.75,"x":77.5,"y":8.92},{"w":5,"x":77.5,"y":9.1},{"w":5.25,"x":77.5,"y":9.27},{"w":5.5,"x":77.5,"y":9.44},{"w":5.75,"x":77.5,"y":9.61},{"w":6,"x":77.5,"y":9.77},{"w":6.25,"x":77.5,"y":9.93},{"w":6.5,"x":77.5,"y":10.09},{"w":6.75,"x":77.5,"y":10.25},{"w":7,"x":77.5,"y":10.4},{"w":7.25,"x":77.5,"y":10.55},{"w":7.5,"x":77.5,"y":10.7},{"w":7.75,"x":77.5,"y":10.85},{"w":8,"x":77.5,"y":10.99},{"w":8.25,"x":77.5,"y":11.13},{"w":8.5,"x":77.5,"y":11.27},{"w":8.75,"x":77.5,"y":11.41},{"w":9,"x":77.5,"y":11.55},{"w":9.25,"x":77.5,"y":11.69},{"w":9.5,"x":77.5,"y":11.82},{"w":9.75,"x":77.5,"y":11.95},{"w":10,"x":77.5,"y":12.08},{"w":10.5,"x":77.5,"y":12.33},{"w":11,"x":77.5,"y":12.59},{"w":11.5,"x":77.5,"y":12.83},{"w":12,"x":77.5,"y":13.07},{"w":12.5,"x":77.5,"y":13.31},{"w":13,"x":77.5,"y":13.54},{"w":13.5,"x":77.5,"y":13.77},{"w":14,"x":77.5,"y":13.99},{"w":14.5,"x":77.5,"y":14.21},{"w":15,"x":77.5,"y":14.43},{"w":15.5,"x":77.5,"y":14.64},{"w":16,"x":77.5,"y":14.86},{"w":16.5,"x":77.5,"y":15.06},{"w":17,"x":77.5,"y":15.27},{"w":17.5,"x":77.5,"y":15.47},{"w":18,"x":77.5,"y":15.67},{"w":18.5,"x":77.5,"y":15.87},{"w":19,"x":77.5,"y":16.06},{"w":19.5,"x":77.5,"y":16.26},{"w":20,"x":77.5,"y":16.45},{"w":20.5,"x":77.5,"y":16.64},{"w":21,"x":77.5,"y":16.82},{"w":21.5,"x":77.5,"y":17.01},{"w":22,"x":77.5,"y":17.19},{"w":22.5,"x":77.5,"y":17.37},{"w":23,"x":77.5,"y":17.55},{"w":23.5,"x":77.5,"y":17.72},{"w":24,"x":77.5,"y":17.9},
{"w":1,"x":82.5,"y":5.5},{"w":1.25,"x":82.5,"y":5.85},{"w":1.5,"x":82.5,"y":6.16},{"w":1.75,"x":82.5,"y":6.45},{"w":2,"x":82.5,"y":6.73},{"w":2.25,"x":82.5,"y":6.99},{"w":2.5,"x":82.5,"y":7.23},{"w":2.75,"x":82.5,"y":7.47},{"w":3,"x":82.5,"y":7.7},{"w":3.25,"x":82.5,"y":7.91},{"w":3.5,"x":82.5,"y":8.12},{"w":3.75,"x":82.5,"y":8.33},{"w":4,"x":82.5,"y":8.53},{"w":4.25,"x":82.5,"y":8.72},{"w":4.5,"x":82.5,"y":8.91},{"w":4.75,"x":82.5,"y":9.09},{"w":5,"x":82.5,"y":9.27},{"w":5.25,"x":82.5,"y":9.44},{"w":5.5,"x":82.5,"y":9.61},{"w":5.75,"x":82.5,"y":9.78},{"w":6,"x":82.5,"y":9.94},{"w":6.25,"x":82.5,"y":10.1},{"w":6.5,"x":82.5,"y":10.26},{"w":6.75,"x":82.5,"y":10.42},{"w":7,"x":82.5,"y":10.57},{"w":7.25,"x":82.5,"y":10.72},{"w":7.5,"x":82.5,"y":10.87},{"w":7.75,"x":82.5,"y":11.02},{"w":8,"x":82.5,"y":11.16},{"w":8.25,"x":82.5,"y":11.3},{"w":8.5,"x":82.5,"y":11.44},{"w":8.75,"x":82.5,"y":11.58},{"w":9,"x":82.5,"y":11.71},{"w":9.25,"x":82.5,"y":11.85},{"w":9.5,"x":82.5,"y":11.98},{"w":9.75,"x":82.5,"y":12.11},{"w":10,"x":82.5,"y":12.24},{"w":10.5,"x":82.5,"y":12.5},{"w":11,"x":82.5,"y":12.75},{"w":11.5,"x":82.5,"y":12.99},{"w":12,"x":82.5,"y":13.23},{"w":12.5,"x":82.5,"y":13.47},{"w":13,"x":82.5,"y":13.7},{"w":13.5,"x":82.5,"y":13.93},{"w":14,"x":82.5,"y":14.15},{"w":14.5,"x":82.5,"y":14.37},{"w":15,"x":82.5,"y":14.59},{"w":15.5,"x":82.5,"y":14.8},{"w":16,"x":82.5,"y":15.01},{"w":16.5,"x":82.5,"y":15.22},{"w":17,"x":82.5,"y":15.42},{"w":17.5,"x":82.5,"y":15.63},{"w":18,"x":82.5,"y":15.83},{"w":18.5,"x":82.5,"y":16.02},{"w":19,"x":82.5,"y":16.22},{"w":19.5,"x":82.5,"y":16.41},{"w":20,"x":82.5,"y":16.6},{"w":20.5,"x":82.5,"y":16.79},{"w":21,"x":82.5,"y":16.97},{"w":21.5,"x":82.5,"y":17.16},{"w":22,"x":82.5,"y":17.34},{"w":22.5,"x":82.5,"y":17.52},{"w":23,"x":82.5,"y":17.7},{"w":23.5,"x":82.5,"y":17.88},{"w":24,"x":82.5,"y":18.05},
{"w":1,"x":87.5,"y":4.56},{"w":1.25,"x":87.5,"y":4.89},{"w":1.5,"x":87.5,"y":5.19},{"w":1.75,"x":87.5,"y":5.47},{"w":2,"x":87.5,"y":5.73},{"w":2.25,"x":87.5,"y":5.98},{"w":2.5,"x":87.5,"y":6.21},{"w":2.75,"x":87.5,"y":6.44},{"w":3,"x":87.5,"y":6.65},{"w":3.25,"x":87.5,"y":6.86},{"w":3.5,"x":87.5,"y":7.06},{"w":3.75,"x":87.5,"y":7.26},{"w":4,"x":87.5,"y":7.45},{"w":4.25,"x":87.5,"y":7.63},{"w":4.5,"x":87.5,"y":7.81},{"w":4.75,"x":87.5,"y":7.98},{"w":5,"x":87.5,"y":8.15},{"w":5.25,"x":87.5,"y":8.32},{"w":5.5,"x":87.5,"y":8.48},{"w":5.75,"x":87.5,"y":8.64},{"w":6,"x":87.5,"y":8.8},{"w":6.25,"x":87.5,"y":8.95},{"w":6.5,"x":87.5,"y":9.1},{"w":6.75,"x":87.5,"y":9.25},{"w":7,"x":87.5,"y":9.4},{"w":7.25,"x":87.5,"y":9.54},{"w":7.5,"x":87.5,"y":9.68},{"w":7.75,"x":87.5,"y":9.82},{"w":8,"x":87.5,"y":9.96},{"w":8.25,"x":87.5,"y":10.1},{"w":8.5,"x":87.5,"y":10.23},{"w":8.75,"x":87.5,"y":10.36},{"w":9,"x":87.5,"y":10.49},{"w":9.25,"x":87.5,"y":10.62},{"w":9.5,"x":87.5,"y":10.74},{"w":9.75,"x":87.5,"y":10.87},{"w":10,"x":87.5,"y":10.99},{"w":10.5,"x":87.5,"y":11.23},{"w":11,"x":87.5,"y":11.47},{"w":11.5,"x":87.5,"y":11.71},{"w":12,"x":87.5,"y":11.94},{"w":12.5,"x":87.5,"y":12.16},{"w":13,"x":87.5,"y":12.38},{"w":13.5,"x":87.5,"y":12.6},{"w":14,"x":87.5,"y":12.81},{"w":14.5,"x":87.5,"y":13.02},{"w":15,"x":87.5,"y":13.23},{"w":15.5,"x":87.5,"y":13.43},{"w":16,"x":87.5,"y":13.63},{"w":16.5,"x":87.5,"y":13.83},{"w":17,"x":87.5,"y":14.03},{"w":17.5,"x":87.5,"y":14.22},{"w":18,"x":87.5,"y":14.41},{"w":18.5,"x":87.5,"y":14.6},{"w":19,"x":87.5,"y":14.78},{"w":19.5,"x":87.5,"y":14.97},{"w":20,"x":87.5,"y":15.15},{"w":20.5,"x":87.5,"y":15.33},{"w":21,"x":87.5,"y":15.5},{"w":21.5,"x":87.5,"y":15.68},{"w":22,"x":87.5,"y":15.85},{"w":22.5,"x":87.5,"y":16.02},{"w":23,"x":87.5,"y":16.19},{"w":23.5,"x":87.5,"y":16.36},{"w":24,"x":87.5,"y":16.53},
{"w":1,"x":92.5,"y":4.66},{"w":1.25,"x":92.5,"y":5.01},{"w":1.5,"x":92.5,"y":5.33},{"w":1.75,"x":92.5,"y":5.63},{"w":2,"x":92.5,"y":5.9},{"w":2.25,"x":92.5,"y":6.17},{"w":2.5,"x":92.5,"y":6.42},{"w":2.75,"x":92.5,"y":6.66},{"w":3,"x":92.5,"y":6.89},{"w":3.25,"x":92.5,"y":7.11},{"w":3.5,"x":92.5,"y":7.32},{"w":3.75,"x":92.5,"y":7.53},{"w":4,"x":92.5,"y":7.73},{"w":4.25,"x":92.5,"y":7.92},{"w":4.5,"x":92.5,"y":8.11},{"w":4.75,"x":92.5,"y":8.3},{"w":5,"x":92.5,"y":8.48},{"w":5.25,"x":92.5,"y":8.66},{"w":5.5,"x":92.5,"y":8.83},{"w":5.75,"x":92.5,"y":9.0},{"w":6,"x":92.5,"y":9.16},{"w":6.25,"x":92.5,"y":9.33},{"w":6.5,"x":92.5,"y":9.49},{"w":6.75,"x":92.5,"y":9.65},{"w":7,"x":92.5,"y":9.8},{"w":7.25,"x":92.5,"y":9.95},{"w":7.5,"x":92.5,"y":10.1},{"w":7.75,"x":92.5,"y":10.25},{"w":8,"x":92.5,"y":10.39},{"w":8.25,"x":92.5,"y":10.54},{"w":8.5,"x":92.5,"y":10.68},{"w":8.75,"x":92.5,"y":10.82},{"w":9,"x":92.5,"y":10.96},{"w":9.25,"x":92.5,"y":11.1},{"w":9.5,"x":92.5,"y":11.23},{"w":9.75,"x":92.5,"y":11.36},{"w":10,"x":92.5,"y":11.49},{"w":10.5,"x":92.5,"y":11.75},{"w":11,"x":92.5,"y":12.01},{"w":11.5,"x":92.5,"y":12.25},{"w":12,"x":92.5,"y":12.5},{"w":12.5,"x":92.5,"y":12.74},{"w":13,"x":92.5,"y":12.97},{"w":13.5,"x":92.5,"y":13.2},{"w":14,"x":92.5,"y":13.43},{"w":14.5,"x":92.5,"y":13.65},{"w":15,"x":92.5,"y":13.87},{"w":15.5,"x":92.5,"y":14.09},{"w":16,"x":92.5,"y":14.3},{"w":16.5,"x":92.5,"y":14.51},{"w":17,"x":92.5,"y":14.72},{"w":17.5,"x":92.5,"y":14.92},{"w":18,"x":92.5,"y":15.13},{"w":18.5,"x":92.5,"y":15.33},{"w":19,"x":92.5,"y":15.52},{"w":19.5,"x":92.5,"y":15.72},{"w":20,"x":92.5,"y":15.91},{"w":20.5,"x":92.5,"y":16.1},{"w":21,"x":92.5,"y":16.29},{"w":21.5,"x":92.5,"y":16.48},{"w":22,"x":92.5,"y":16.66},{"w":22.5,"x":92.5,"y":16.84},{"w":23,"x":92.5,"y":17.02},{"w":23.5,"x":92.5,"y":17.2},{"w":24,"x":92.5,"y":17.38},
{"w":1,"x":98.75,"y":3.88},{"w":1.25,"x":98.75,"y":4.23},{"w":1.5,"x":98.75,"y":4.54},{"w":1.75,"x":98.75,"y":4.84},{"w":2,"x":98.75,"y":5.12},{"w":2.25,"x":98.75,"y":5.38},{"w":2.5,"x":98.75,"y":5.62},{"w":2.75,"x":98.75,"y":5.86},{"w":3,"x":98.75,"y":6.09},{"w":3.25,"x":98.75,"y":6.31},{"w":3.5,"x":98.75,"y":6.52},{"w":3.75,"x":98.75,"y":6.72},{"w":4,"x":98.75,"y":6.92},{"w":4.25,"x":98.75,"y":7.12},{"w":4.5,"x":98.75,"y":7.3},{"w":4.75,"x":98.75,"y":7.49},{"w":5,"x":98.75,"y":7.67},{"w":5.25,"x":98.75,"y":7.84},{"w":5.5,"x":98.75,"y":8.01},{"w":5.75,"x":98.75,"y":8.18},{"w":6,"x":98.75,"y":8.35},{"w":6.25,"x":98.75,"y":8.51},{"w":6.5,"x":98.75,"y":8.67},{"w":6.75,"x":98.75,"y":8.83},{"w":7,"x":98.75,"y":8.98},{"w":7.25,"x":98.75,"y":9.13},{"w":7.5,"x":98.75,"y":9.28},{"w":7.75,"x":98.75,"y":9.43},{"w":8,"x":98.75,"y":9.57},{"w":8.25,"x":98.75,"y":9.71},{"w":8.5,"x":98.75,"y":9.85},{"w":8.75,"x":98.75,"y":9.99},{"w":9,"x":98.75,"y":10.13},{"w":9.25,"x":98.75,"y":10.27},{"w":9.5,"x":98.75,"y":10.4},{"w":9.75,"x":98.75,"y":10.53},{"w":10,"x":98.75,"y":10.66},{"w":10.5,"x":98.75,"y":10.92},{"w":11,"x":98.75,"y":11.17},{"w":11.5,"x":98.75,"y":11.41},{"w":12,"x":98.75,"y":11.66},{"w":12.5,"x":98.75,"y":11.89},{"w":13,"x":98.75,"y":12.13},{"w":13.5,"x":98.75,"y":12.35},{"w":14,"x":98.75,"y":12.58},{"w":14.5,"x":98.75,"y":12.8},{"w":15,"x":98.75,"y":13.02},{"w":15.5,"x":98.75,"y":13.23},{"w":16,"x":98.75,"y":13.45},{"w":16.5,"x":98.75,"y":13.65},{"w":17,"x":98.75,"y":13.86},{"w":17.5,"x":98.75,"y":14.06},{"w":18,"x":98.75,"y":14.26},{"w":18.5,"x":98.75,"y":14.46},{"w":19,"x":98.75,"y":14.66},{"w":19.5,"x":98.75,"y":14.85},{"w":20,"x":98.75,"y":15.04},{"w":20.5,"x":98.75,"y":15.23},{"w":21,"x":98.75,"y":15.42},{"w":21.5,"x":98.75,"y":15.6},{"w":22,"x":98.75,"y":15.79},{"w":22.5,"x":98.75,"y":15.97},{"w":23,"x":98.75,"y":16.15},{"w":23.5,"x":98.75,"y":16.32},{"w":24,"x":98.75,"y":16.5}
]},
"layer":[
{"mark":{"type":"line"},
 "encoding":{
  "x":{"field":"x","type":"quantitative","scale":{"domain":[-2.66,102.57],"nice":false,"zero":false},
   "axis":{"values":[0,20,40,60,80,100],"title":"power [ % capacity]","domain":false,"tickSize":18,"tickWidth":2,"tickColor":"black","labelFont":"DejaVu Sans","labelFontSize":30,"labelColor":"black","labelPadding":23,"labelFlush":false,"labelOverlap":false,"titleFont":"DejaVu Sans","titleFontSize":34,"titleFontWeight":"normal","titleColor":"black","titleX":342,"titleY":128,"titleBaseline":"middle","titleAlign":"center"}},
  "y":{"field":"y","type":"quantitative","scale":{"domain":[0.496,19.59],"nice":false,"zero":false},
   "axis":{"values":[5,10,15],"title":"production stand. dev. [ % capacity]","domain":false,"tickSize":25,"tickWidth":2,"tickColor":"black","labelAngle":270,"labelAlign":"center","labelBaseline":"bottom","labelFont":"Liberation Sans","labelFontSize":26,"labelPadding":37,"labelColor":"black","labelFlush":false,"titleFont":"Liberation Sans","titleFontSize":29.5,"titleFontWeight":"normal","titleColor":"black","titleAngle":270,"titleX":-162,"titleY":229,"titleAlign":"center","titleBaseline":"middle"}},
  "color":{"field":"w","type":"quantitative","scale":{"domain":[1,24],"range":["#0000ff","#ff0000"],"interpolate":"rgb"},"legend":null},
  "strokeWidth":{"field":"w","type":"quantitative","scale":{"domain":[1,7,9.5,10,14,24],"range":[2,2,2.6,4.2,4.2,3.3]},"legend":null},
  "detail":{"field":"w","type":"quantitative"}
 }},
{"transform":[{"filter":{"field":"w","oneOf":[1,24]}}],
 "mark":{"type":"line","strokeWidth":2},
 "encoding":{
  "x":{"field":"x","type":"quantitative"},
  "y":{"field":"y","type":"quantitative"},
  "stroke":{"field":"w","type":"ordinal","scale":{"domain":[1,24],"range":["#0000ff","#ff0000"]},
   "legend":{"orient":"none","legendX":222,"legendY":376,"title":null,"symbolType":"M-4,0L4,0","symbolSize":352,"symbolStrokeWidth":2,"labelFont":"DejaVu Sans","labelFontSize":33,"labelColor":"black","labelOffset":59,"labelExpr":"datum.label + ' h m.a.'","rowPadding":5,"padding":0,"symbolOffset":0}}
 }}
],
"resolve":{"scale":{"color":"independent","stroke":"independent","strokeWidth":"independent"}}
}
